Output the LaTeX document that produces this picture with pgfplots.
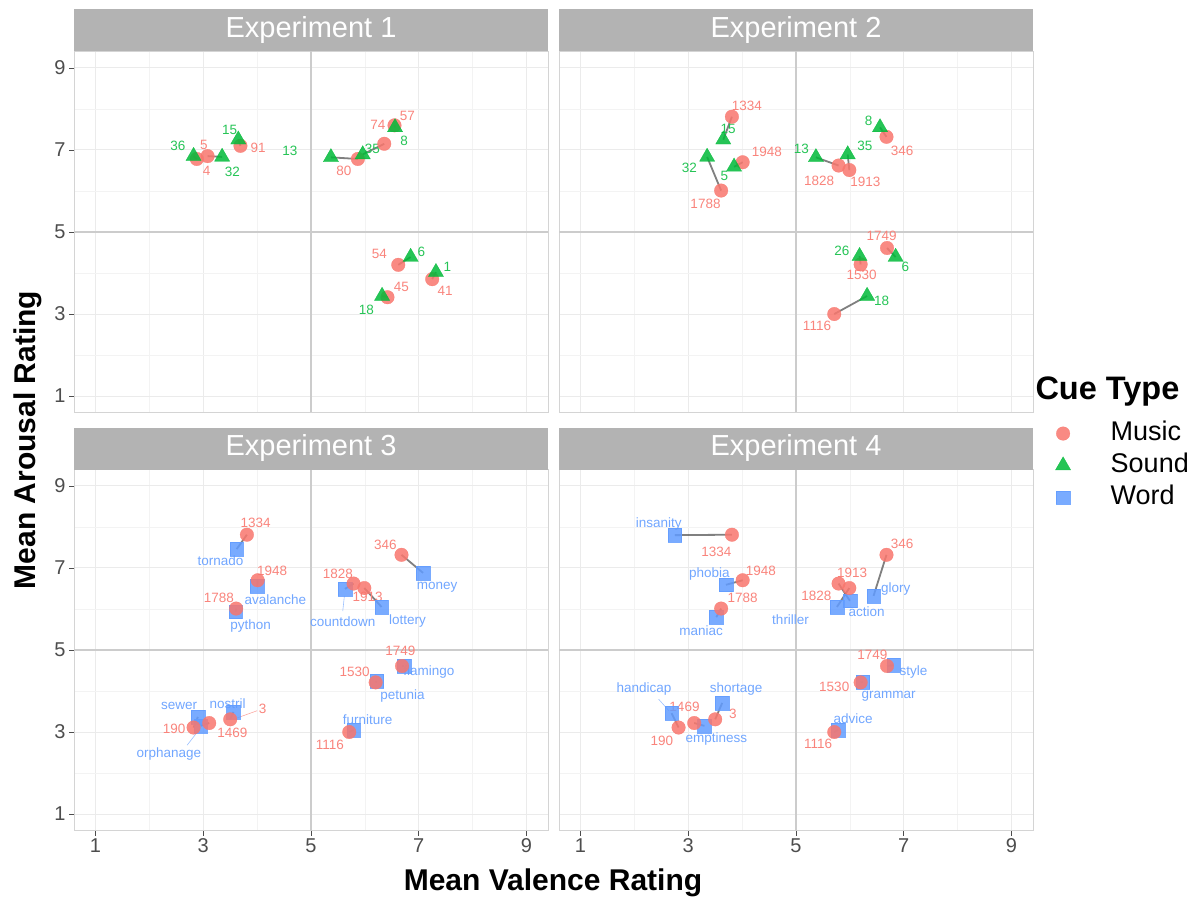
\documentclass[border=0pt]{standalone}
\usepackage{pgfplots}
\pgfplotsset{compat=1.18}
\usepackage{fontspec}
\setmainfont{Liberation Sans}
\definecolor{mus}{HTML}{F8766D}
\definecolor{snd}{HTML}{00BA38}
\definecolor{wrd}{HTML}{619CFF}
\definecolor{stripg}{HTML}{B3B3B3}
\definecolor{gridmaj}{HTML}{EBEBEB}
\definecolor{gridmin}{HTML}{F3F3F3}
\definecolor{fivel}{HTML}{CCCCCC}
\definecolor{border}{HTML}{D4D4D4}
\definecolor{tickgray}{HTML}{4D4D4D}
\definecolor{segc}{HTML}{555555}
\newcommand\labfont{\fontsize{13.5bp}{16bp}\selectfont}
\newcommand\seg[4]{\addplot[segc, opacity=0.75, line width=1.8bp, forget plot] coordinates {(#1,#2) (#3,#4)};}
\newcommand\lab[4]{\node[font=\labfont, text=#1, inner sep=0pt] at (axis cs:#2,#3) {#4};}
\newcommand\lead[5]{\addplot[#1, opacity=0.7, line width=0.6bp, forget plot] coordinates {(#2,#3) (#4,#5)};}
\pgfplotsset{
  panel/.style={
    scale only axis, width=474bp, height=361bp, anchor=south west,
    xmin=0.6, xmax=9.4, ymin=0.6, ymax=9.4,
    xtick={1,3,5,7,9}, ytick={1,3,5,7,9},
    minor xtick={2,4,6,8}, minor ytick={2,4,6,8},
    grid=both,
    major grid style={draw=gridmaj, line width=1bp},
    minor grid style={draw=gridmin, line width=0.6bp},
    axis line style={draw=border, line width=0.9bp},
    tick align=outside, major tick length=5bp, minor tick length=0pt,
    tick style={draw=tickgray, line width=0.8bp},
    tick pos=left,
    tick label style={font=\fontsize{20bp}{24bp}\selectfont, text=tickgray},
    /pgf/number format/assume math mode=true,
    clip=false,
  },
  musst/.style={only marks, mark=*, mark size=6.8bp, color=mus, opacity=0.85, mark options={solid, line width=0.3bp}},
  sndst/.style={only marks, mark=triangle*, mark size=8.8bp, color=snd, opacity=0.85, mark options={solid, line width=0.3bp}},
  wrdst/.style={only marks, mark=square*, mark size=6.8bp, color=wrd, opacity=0.85, mark options={solid, line width=0.3bp}},
  musp/.style={musst, forget plot},
  sndp/.style={sndst, forget plot},
  wrdp/.style={wrdst, forget plot},
  fives/.style={draw=fivel, line width=1.3bp, forget plot},
}
\colorlet{mlab}{mus!90!white}
\colorlet{slab}{snd!85!white}
\colorlet{wlab}{wrd!90!white}
\begin{document}
\begin{tikzpicture}
\path[use as bounding box] (0,0) rectangle (1194bp,899bp);
% ---------------- Experiment 1
\begin{axis}[panel, name=e1, at={(74bp,486.5bp)}, xticklabels={}, xtick style={draw=none}]
\addplot[fives] coordinates {(5,0.6) (5,9.4)};
\addplot[fives] coordinates {(0.6,5) (9.4,5)};
\addplot[musp] coordinates {(2.88,6.78) (3.08,6.85) (3.69,7.10) (5.87,6.78) (6.36,7.15) (6.55,7.60) (6.62,4.20) (7.25,3.85) (6.42,3.41)};
\addplot[sndp] coordinates {(2.82,6.85) (3.35,6.83) (3.65,7.25) (5.37,6.82) (5.96,6.89) (6.56,7.55) (6.85,4.39) (7.32,4.02) (6.32,3.44)};
\seg{2.88}{6.78}{2.82}{6.85}
\seg{3.08}{6.85}{3.35}{6.83}
\seg{3.69}{7.10}{3.65}{7.25}
\seg{5.87}{6.78}{5.37}{6.82}
\seg{6.36}{7.15}{5.96}{6.89}
\seg{6.55}{7.60}{6.56}{7.55}
\seg{6.62}{4.20}{6.85}{4.39}
\seg{7.25}{3.85}{7.32}{4.02}
\seg{6.42}{3.41}{6.32}{3.44}
\lab{slab}{2.53}{7.10}{36}
\lab{mlab}{3.01}{7.12}{5}
\lab{mlab}{3.06}{6.49}{4}
\lab{slab}{3.54}{6.46}{32}
\lab{slab}{3.49}{7.49}{15}
\lab{mlab}{4.02}{7.05}{91}
\lab{slab}{4.61}{6.98}{13}
\lab{mlab}{5.61}{6.49}{80}
\lab{slab}{6.14}{7.02}{35}
\lab{mlab}{6.24}{7.61}{74}
\lab{mlab}{6.79}{7.83}{57}
\lab{slab}{6.73}{7.22}{8}
\lab{mlab}{6.27}{4.46}{54}
\lab{slab}{7.05}{4.51}{6}
\lab{slab}{7.53}{4.15}{1}
\lab{mlab}{6.68}{3.66}{45}
\lab{mlab}{7.49}{3.56}{41}
\lab{slab}{6.03}{3.10}{18}
\end{axis}
% ---------------- Experiment 2
\begin{axis}[panel, name=e2, at={(559bp,486.5bp)}, xticklabels={}, yticklabels={}, xtick style={draw=none}, ytick style={draw=none},
  legend style={at={(1.047,-0.147)}, anchor=west, draw=none, fill=none, font=\fontsize{27bp}{32bp}\selectfont, row sep=0bp, inner sep=0bp,
    nodes={text height=20bp, text depth=6bp, inner sep=3bp},
    /tikz/every odd column/.append style={column sep=37bp}},
  legend cell align=left]
\addlegendimage{musst}
\addlegendentry{Music}
\addlegendimage{sndst}
\addlegendentry{Sound}
\addlegendimage{wrdst}
\addlegendentry{Word}
\addplot[fives] coordinates {(5,0.6) (5,9.4)};
\addplot[fives] coordinates {(0.6,5) (9.4,5)};
\addplot[musp] coordinates {(3.81,7.81) (3.61,6.01) (4.01,6.70) (5.79,6.62) (5.99,6.51) (6.68,7.32) (6.69,4.61) (6.20,4.21) (5.71,3.00)};
\addplot[sndp] coordinates {(3.65,7.25) (3.35,6.83) (3.85,6.59) (5.37,6.82) (5.96,6.89) (6.56,7.55) (6.85,4.39) (6.18,4.41) (6.32,3.44)};
\seg{3.81}{7.81}{3.65}{7.25}
\seg{3.61}{6.01}{3.35}{6.83}
\seg{4.01}{6.70}{3.85}{6.59}
\seg{5.79}{6.62}{5.37}{6.82}
\seg{5.99}{6.51}{5.96}{6.89}
\seg{6.68}{7.32}{6.56}{7.55}
\seg{6.69}{4.61}{6.85}{4.39}
\seg{6.20}{4.21}{6.18}{4.41}
\seg{5.71}{3.00}{6.32}{3.44}
\lab{mlab}{4.09}{8.07}{1334}
\lab{slab}{3.74}{7.51}{15}
\lab{slab}{3.02}{6.56}{32}
\lab{slab}{3.67}{6.37}{5}
\lab{mlab}{4.46}{6.95}{1948}
\lab{mlab}{3.32}{5.68}{1788}
\lab{slab}{5.10}{7.02}{13}
\lab{slab}{6.28}{7.10}{35}
\lab{slab}{6.35}{7.71}{8}
\lab{mlab}{6.97}{6.98}{346}
\lab{mlab}{5.43}{6.24}{1828}
\lab{mlab}{6.29}{6.22}{1913}
\lab{mlab}{6.59}{4.90}{1749}
\lab{slab}{5.85}{4.54}{26}
\lab{slab}{7.03}{4.15}{6}
\lab{mlab}{6.22}{3.95}{1530}
\lab{slab}{6.59}{3.32}{18}
\lab{mlab}{5.39}{2.71}{1116}
\end{axis}
% ---------------- Experiment 3
\begin{axis}[panel, name=e3, at={(74bp,68.5bp)}]
\addplot[fives] coordinates {(5,0.6) (5,9.4)};
\addplot[fives] coordinates {(0.6,5) (9.4,5)};
\addplot[wrdp] coordinates {(3.62,7.46) (4.00,6.56) (3.60,5.93) (7.08,6.88) (5.63,6.49) (6.31,6.05) (2.90,3.37) (2.95,3.15) (3.56,3.49) (6.73,4.61) (6.22,4.24) (5.79,3.05)};
\addplot[musp] coordinates {(3.81,7.81) (4.01,6.70) (3.61,6.01) (6.68,7.32) (5.79,6.62) (5.99,6.51) (2.82,3.11) (3.11,3.22) (3.50,3.31) (6.69,4.61) (6.20,4.21) (5.71,3.00)};
\seg{3.81}{7.81}{3.62}{7.46}
\seg{4.01}{6.70}{4.00}{6.56}
\seg{3.61}{6.01}{3.60}{5.93}
\seg{6.68}{7.32}{7.08}{6.88}
\seg{5.79}{6.62}{5.63}{6.49}
\seg{5.99}{6.51}{6.31}{6.05}
\seg{2.82}{3.11}{2.90}{3.37}
\seg{3.11}{3.22}{2.95}{3.15}
\seg{3.50}{3.31}{3.56}{3.49}
\seg{6.69}{4.61}{6.73}{4.61}
\seg{6.20}{4.21}{6.22}{4.24}
\seg{5.71}{3.00}{5.79}{3.05}
\lead{wlab}{5.59}{5.95}{5.62}{6.32}
\lead{wlab}{2.70}{2.68}{2.92}{3.05}
\lead{mlab}{4.00}{3.52}{3.62}{3.34}
\lab{mlab}{3.97}{8.10}{1334}
\lab{wlab}{3.32}{7.17}{tornado}
\lab{mlab}{4.28}{6.93}{1948}
\lab{wlab}{4.34}{6.22}{avalanche}
\lab{mlab}{3.29}{6.27}{1788}
\lab{wlab}{3.88}{5.59}{python}
\lab{mlab}{6.38}{7.56}{346}
\lab{wlab}{7.34}{6.54}{money}
\lab{mlab}{5.50}{6.85}{1828}
\lab{mlab}{6.05}{6.29}{1913}
\lab{wlab}{5.59}{5.68}{countdown}
\lab{wlab}{6.79}{5.71}{lottery}
\lab{wlab}{2.55}{3.63}{sewer}
\lab{wlab}{3.45}{3.68}{nostril}
\lab{mlab}{4.10}{3.56}{3}
\lab{mlab}{2.46}{3.07}{190}
\lab{mlab}{3.54}{2.98}{1469}
\lab{wlab}{2.36}{2.46}{orphanage}
\lab{mlab}{5.81}{4.46}{1530}
\lab{mlab}{6.66}{4.98}{1749}
\lab{wlab}{7.19}{4.46}{flamingo}
\lab{wlab}{6.70}{3.88}{petunia}
\lab{wlab}{6.05}{3.29}{furniture}
\lab{mlab}{5.35}{2.68}{1116}
\end{axis}
% ---------------- Experiment 4
\begin{axis}[panel, name=e4, at={(559bp,68.5bp)}, yticklabels={}, ytick style={draw=none}]
\addplot[fives] coordinates {(5,0.6) (5,9.4)};
\addplot[fives] coordinates {(0.6,5) (9.4,5)};
\addplot[wrdp] coordinates {(2.75,7.80) (3.70,6.59) (3.52,5.80) (6.44,6.32) (5.76,6.05) (6.00,6.20) (2.69,3.46) (3.30,3.15) (3.63,3.71) (6.81,4.63) (6.24,4.22) (5.78,3.05)};
\addplot[musp] coordinates {(3.81,7.81) (4.01,6.70) (3.61,6.01) (6.68,7.32) (5.79,6.62) (5.99,6.51) (2.82,3.11) (3.11,3.22) (3.50,3.31) (6.69,4.61) (6.20,4.21) (5.71,3.00)};
\seg{3.81}{7.81}{2.75}{7.80}
\seg{4.01}{6.70}{3.70}{6.59}
\seg{3.61}{6.01}{3.52}{5.80}
\seg{6.68}{7.32}{6.44}{6.32}
\seg{5.79}{6.62}{6.00}{6.20}
\seg{5.99}{6.51}{5.76}{6.05}
\seg{2.82}{3.11}{2.69}{3.46}
\seg{3.11}{3.22}{3.30}{3.15}
\seg{3.50}{3.31}{3.63}{3.71}
\seg{6.69}{4.61}{6.81}{4.63}
\seg{6.20}{4.21}{6.24}{4.22}
\seg{5.71}{3.00}{5.78}{3.05}
\lead{wlab}{2.45}{3.80}{2.64}{3.52}
\lab{wlab}{2.45}{8.07}{insanity}
\lab{mlab}{3.52}{7.39}{1334}
\lab{wlab}{3.39}{6.85}{phobia}
\lab{mlab}{4.35}{6.93}{1948}
\lab{mlab}{4.01}{6.27}{1788}
\lab{wlab}{3.24}{5.46}{maniac}
\lab{mlab}{6.97}{7.59}{346}
\lab{mlab}{6.04}{6.88}{1913}
\lab{mlab}{5.38}{6.32}{1828}
\lab{wlab}{6.85}{6.49}{glory}
\lab{wlab}{4.90}{5.73}{thriller}
\lab{wlab}{6.31}{5.93}{action}
\lab{wlab}{2.18}{4.05}{handicap}
\lab{wlab}{3.89}{4.05}{shortage}
\lab{mlab}{2.93}{3.62}{1469}
\lab{mlab}{3.83}{3.44}{3}
\lab{mlab}{2.51}{2.78}{190}
\lab{wlab}{3.52}{2.83}{emptiness}
\lab{mlab}{6.42}{4.88}{1749}
\lab{wlab}{7.18}{4.46}{style}
\lab{mlab}{5.71}{4.10}{1530}
\lab{wlab}{6.72}{3.88}{grammar}
\lab{wlab}{6.06}{3.32}{advice}
\lab{mlab}{5.41}{2.71}{1116}
\end{axis}
% ---------------- strips
\foreach \n/\t in {e1/Experiment 1, e2/Experiment 2, e3/Experiment 3, e4/Experiment 4} {
  \fill[stripg] (\n.north west) rectangle ([yshift=42bp]\n.north east);
  \node[text=white, font=\fontsize{29bp}{34bp}\selectfont] at ([yshift=21bp]\n.north) {\t};
}
% ---------------- titles
\node[font=\fontsize{30bp}{36bp}\selectfont\bfseries] at (553bp,16bp) {Mean Valence Rating};
\node[font=\fontsize{30bp}{36bp}\selectfont\bfseries, rotate=90] at (28bp,459bp) {Mean Arousal Rating};
\node[font=\fontsize{32.5bp}{38bp}\selectfont\bfseries, anchor=west] at (1032bp,507bp) {Cue Type};
\end{tikzpicture}
\end{document}
